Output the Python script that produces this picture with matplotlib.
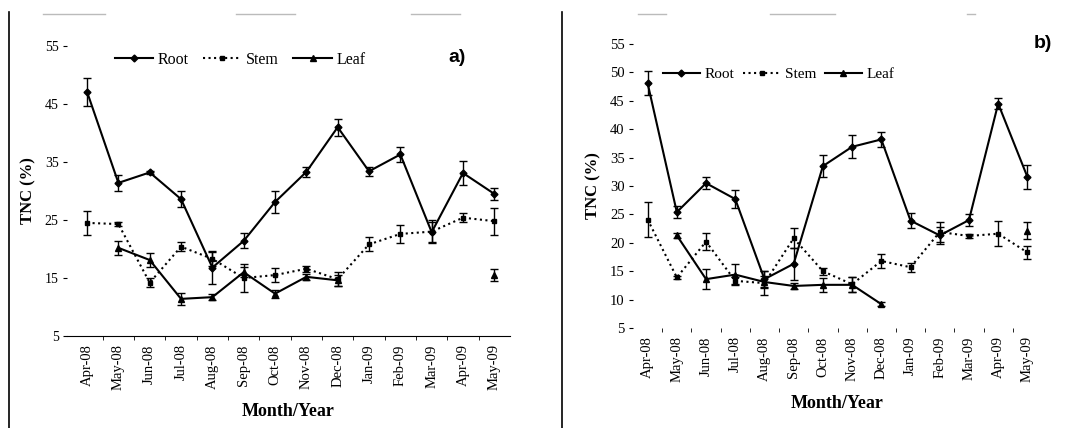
import numpy as np
import matplotlib
matplotlib.use("Agg")
import matplotlib.pyplot as plt
from matplotlib.lines import Line2D

plt.rcParams['font.family'] = ['Liberation Serif', 'DejaVu Serif']

months = ['Apr-08', 'May-08', 'Jun-08', 'Jul-08', 'Aug-08', 'Sep-08', 'Oct-08',
          'Nov-08', 'Dec-08', 'Jan-09', 'Feb-09', 'Mar-09', 'Apr-09', 'May-09']

# panel a)
root_a = [47.1, 31.4, 33.2, 28.6, 16.8, 21.4, 28.1, 33.3, 41.0, 33.4, 36.3, 22.9, 33.1, 29.5]
root_a_err = [2.4, 1.4, 0.3, 1.4, 2.8, 1.3, 1.9, 0.8, 1.5, 0.8, 1.3, 1.7, 2.0, 1.0]
stem_a = [24.5, 24.3, 14.2, 20.4, 18.3, 15.0, 15.5, 16.6, 14.8, 20.8, 22.6, 23.0, 25.4, 24.8]
stem_a_err = [2.1, 0.3, 0.8, 0.8, 1.2, 2.4, 1.2, 0.5, 1.2, 1.2, 1.6, 2.0, 0.8, 2.3]
leaf_a = [np.nan, 20.2, 18.1, 11.4, 11.7, 16.0, 12.3, 15.2, 14.6, np.nan, np.nan, np.nan, np.nan, 15.5]
leaf_a_err = [0, 1.2, 1.2, 1.0, 0.5, 0.9, 0.7, 0.5, 1.0, 0, 0, 0, 0, 1.1]

# panel b)
root_b = [48.1, 25.4, 30.5, 27.7, 13.6, 16.3, 33.5, 36.9, 38.2, 23.9, 21.3, 24.0, 44.5, 31.6]
root_b_err = [2.1, 1.0, 1.0, 1.6, 1.4, 2.8, 2.0, 2.0, 1.3, 1.3, 1.5, 1.0, 1.0, 2.1]
stem_b = [24.1, 13.9, 20.2, 13.3, 12.9, 20.8, 15.0, 12.7, 16.8, 15.7, 21.9, 21.2, 21.6, 18.3]
stem_b_err = [3.0, 0.3, 1.5, 0.6, 2.1, 1.8, 0.6, 1.3, 1.2, 0.8, 1.8, 0.4, 2.2, 1.1]
leaf_b = [np.nan, 21.3, 13.6, 14.4, 13.1, 12.4, 12.6, 12.6, 9.2, np.nan, np.nan, np.nan, np.nan, 22.1]
leaf_b_err = [0, 0.4, 1.8, 1.8, 1.0, 0.5, 1.2, 1.3, 0.4, 0, 0, 0, 0, 1.5]

fig = plt.figure(figsize=(10.91, 4.28), dpi=100)

# frame lines from the scanned table
fig.add_artist(Line2D([9 / 1091, 9 / 1091], [0, 1 - 12 / 428], color='black', lw=1.2))
fig.add_artist(Line2D([562 / 1091, 562 / 1091], [0, 1 - 12 / 428], color='black', lw=1.2))
for x0, x1 in [(43, 105), (236, 295), (411, 460), (638, 666), (770, 835), (967, 975)]:
    fig.add_artist(Line2D([x0 / 1091, x1 / 1091], [1 - 14 / 428] * 2, color='#bbbbbb', lw=1.0))

ax1 = fig.add_axes([67 / 1091, 1 - 336 / 428, 443 / 1091, 290 / 428])
ax2 = fig.add_axes([633 / 1091, 1 - 328 / 428, 409 / 1091, 284 / 428])

x = np.arange(len(months))

handles = [Line2D([], [], color='black', lw=1.5, marker='D', ms=3.5),
           Line2D([], [], color='black', lw=1.5, ls=':', marker='s', ms=3.5),
           Line2D([], [], color='black', lw=1.5, marker='^', ms=4)]


def draw(ax, root, root_err, stem, stem_err, leaf, leaf_err, yticks, tick_fs,
         leg_anchor, leg_fs, leg_cs, label, label_xy):
    leaf_err = [e if not np.isnan(v) else np.nan for v, e in zip(leaf, leaf_err)]
    ax.errorbar(x, root, yerr=root_err, color='black', lw=1.5, marker='D', ms=3.5,
                capsize=3, elinewidth=1.0, capthick=1.0)
    ax.errorbar(x, stem, yerr=stem_err, color='black', lw=1.5, ls=':', marker='s', ms=3.5,
                capsize=3, elinewidth=1.0, capthick=1.0)
    ax.errorbar(x, leaf, yerr=leaf_err, color='black', lw=1.5, marker='^', ms=4,
                capsize=3, elinewidth=1.0, capthick=1.0)
    ax.set_ylim(5, 55)
    ax.set_yticks(yticks)
    ax.set_xticks(x)
    ax.set_xticklabels(months, rotation=90, fontsize=10.5)
    ax.set_xticks(x[:-1] + 0.5, minor=True)
    ax.tick_params(axis='x', which='major', length=0, pad=6)
    ax.tick_params(axis='x', which='minor', length=3, direction='out')
    ax.tick_params(axis='y', length=3, labelsize=tick_fs, pad=3)
    for s in ['top', 'right', 'left']:
        ax.spines[s].set_visible(False)
    ax.set_ylabel('TNC (%)', fontsize=12, fontweight='bold', labelpad=6)
    ax.set_xlabel('Month/Year', fontsize=13, fontweight='bold', labelpad=9)
    ax.legend(handles, ['Root', 'Stem', 'Leaf'], loc='upper left', bbox_to_anchor=leg_anchor,
              ncol=3, frameon=False, fontsize=leg_fs, handlelength=2.4, columnspacing=leg_cs,
              handletextpad=0.3)
    ax.text(label_xy[0], label_xy[1], label, transform=ax.transAxes, fontsize=14,
            fontweight='bold', family='Liberation Sans', ha='left', va='center')


draw(ax1, root_a, root_a_err, stem_a, stem_a_err, leaf_a, leaf_a_err,
     np.arange(5, 56, 10), 10, (0.075, 1.03), 11.5, 0.9, 'a)', (0.86, 0.96))
draw(ax2, root_b, root_b_err, stem_b, stem_b_err, leaf_b, leaf_b_err,
     np.arange(5, 56, 5), 10.5, (0.04, 0.965), 11, 0.6, 'b)', (0.98, 1.0))
ax1.set_xlim(-0.64, 13.5)
ax2.set_xlim(-0.5, 13.5)
ax2.spines['bottom'].set_visible(False)

fig.savefig('out.png', dpi=100)
